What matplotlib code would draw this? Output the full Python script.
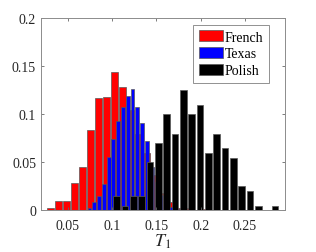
import numpy as np
import matplotlib
matplotlib.use('Agg')
import matplotlib.pyplot as plt

plt.rcParams['font.family'] = ['Liberation Serif', 'DejaVu Serif']
plt.rcParams['mathtext.fontset'] = 'stix'

# bin centres and normalised counts
french_x = [0.0305, 0.0395, 0.0486, 0.0576, 0.0666, 0.0757, 0.0847, 0.0937, 0.1027, 0.1118,
            0.1208, 0.1298, 0.1389, 0.1479, 0.1569, 0.1659, 0.1750, 0.1840, 0.1930, 0.2021]
french_y = [0.002, 0.0097, 0.010, 0.0285, 0.0455, 0.0837, 0.117, 0.1184, 0.1437, 0.128,
            0.105, 0.08, 0.06, 0.037, 0.0177, 0.0083, 0.002, 0.002, 0.0, 0.001]

texas_x = [0.0745, 0.0799, 0.0853, 0.0907, 0.0961, 0.1015, 0.1069, 0.1123, 0.1177, 0.1231,
           0.1285, 0.1339, 0.1393, 0.1447, 0.1501, 0.1555, 0.1609, 0.1663, 0.1717, 0.1771]
texas_y = [0.0028, 0.0087, 0.0153, 0.0274, 0.0552, 0.0743, 0.0934, 0.108, 0.119, 0.126,
           0.108, 0.0906, 0.0719, 0.045, 0.03, 0.016, 0.006, 0.003, 0.0, 0.001]

polish_x = [0.1052, 0.1146, 0.1240, 0.1334, 0.1428, 0.1522, 0.1616, 0.1710, 0.1804, 0.1898,
            0.1992, 0.2086, 0.2180, 0.2274, 0.2368, 0.2462, 0.2556, 0.2650, 0.2744, 0.2838]
polish_y = [0.015, 0.005, 0.015, 0.015, 0.05, 0.07, 0.1, 0.08, 0.125, 0.1,
            0.11, 0.06, 0.08, 0.065, 0.055, 0.025, 0.02, 0.005, 0.0, 0.005]

xticks = [0.05, 0.1, 0.15, 0.2, 0.25]
yticks = [0, 0.05, 0.1, 0.15, 0.2]

fig = plt.figure(figsize=(3.16, 2.53), dpi=100)
ax = fig.add_axes([0.1297, 0.1648, 0.7722, 0.7589])

# bars drawn in legend order, black ends up on top
edge = '0.35'
for xs, ys, col, lab in [(french_x, french_y, '#ff0000', 'French'),
                         (texas_x, texas_y, '#0000ff', 'Texas'),
                         (polish_x, polish_y, '#000000', 'Polish')]:
    w = 0.8 * (xs[1] - xs[0])
    ax.bar(xs, ys, width=w, color=col, edgecolor=edge, linewidth=0.5, label=lab)

ax.set_xlim(0.0198, 0.2951)
ax.set_ylim(0, 0.2)
ax.set_xticks(xticks)
ax.set_xticklabels(['0.05', '0.1', '0.15', '0.2', '0.25'])
ax.set_yticks(yticks)
ax.set_yticklabels(['0', '0.05', '0.1', '0.15', '0.2'])
ax.tick_params(direction='in', top=True, right=True, length=2.5, width=0.6,
               color='0.4', labelsize=10, labelcolor='0.15')
ax.tick_params(axis='x', pad=6)
ax.tick_params(axis='y', pad=3.5)
for s in ax.spines.values():
    s.set_color('0.55')
    s.set_linewidth(0.7)

ax.set_xlabel(r'$T_1$', fontsize=13, labelpad=0, color='0.15')

leg = ax.legend(loc='upper right', bbox_to_anchor=(0.934, 0.966), borderaxespad=0,
                fontsize=10, handlelength=1.75, handleheight=0.84, handletextpad=0.1,
                labelspacing=0.25, borderpad=0.4, fancybox=False, framealpha=1)
leg.get_frame().set_edgecolor('0.5')
leg.get_frame().set_linewidth(0.6)

fig.savefig('out.png', dpi=100)
